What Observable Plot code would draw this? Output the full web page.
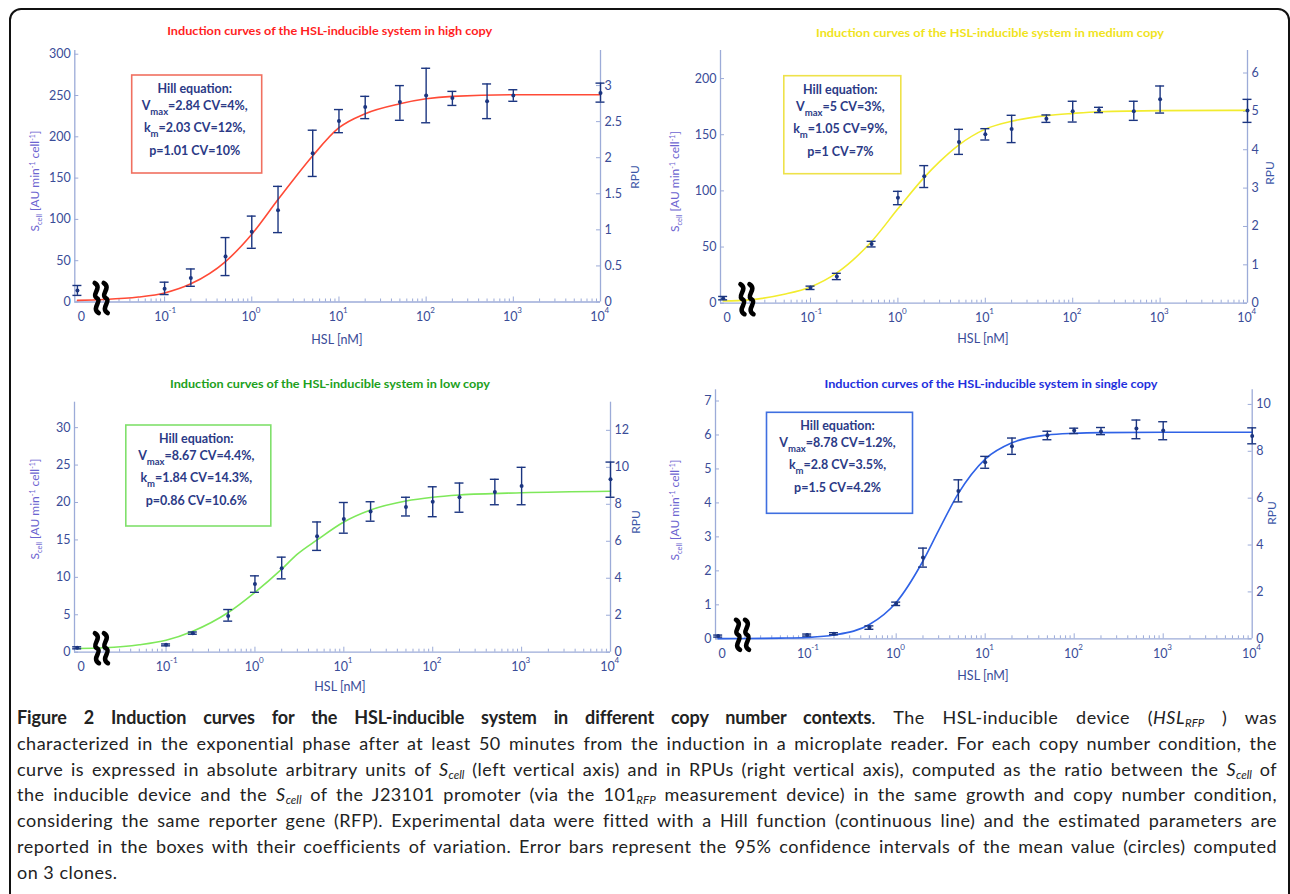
<!DOCTYPE html>
<html><head><meta charset="utf-8">
<script src="https://cdn.jsdelivr.net/npm/d3@7"></script>
<script src="https://cdn.jsdelivr.net/npm/@observablehq/plot@0.6"></script>
<style>
html,body{margin:0;padding:0;background:#fff;}
#page{position:relative;width:1290px;height:894px;overflow:hidden;font-family:Lato,"Open Sans",sans-serif;}
#border{position:absolute;left:9px;top:8px;width:1281px;height:910px;border:2px solid #111;border-radius:12px;box-sizing:border-box;}
.panel{position:absolute;}
#caption{position:absolute;left:17px;top:705px;width:1260px;font-size:18px;letter-spacing:0.5px;line-height:25.8px;color:#222;}
#caption div{text-align:justify;text-align-last:justify;white-space:nowrap;}
#caption div.last{text-align-last:left;}
#caption b{letter-spacing:-0.1px;}
#caption sub{font-size:11.5px;line-height:0;vertical-align:-3px;font-style:italic;letter-spacing:0;}
</style></head>
<body><div id="page"><div id="border"></div>
<div id="caption">
<div><b>Figure 2 Induction curves for the HSL-inducible system in different copy number contexts</b>. The HSL-inducible device (<i>HSL<sub>RFP</sub></i> ) was</div>
<div>characterized in the exponential phase after at least 50 minutes from the induction in a microplate reader. For each copy number condition, the</div>
<div>curve is expressed in absolute arbitrary units of <i>S<sub>cell</sub></i> (left vertical axis) and in RPUs (right vertical axis), computed as the ratio between the <i>S<sub>cell</sub></i> of</div>
<div>the inducible device and the <i>S<sub>cell</sub></i> of the J23101 promoter (via the 101<sub>RFP</sub> measurement device) in the same growth and copy number condition,</div>
<div>considering the same reporter gene (RFP). Experimental data were fitted with a Hill function (continuous line) and the estimated parameters are</div>
<div>reported in the boxes with their coefficients of variation. Error bars represent the 95% confidence intervals of the mean value (circles) computed</div>
<div class="last">on 3 clones.</div>
</div>
</div>
<script>
// ---------------- DATA ----------------
const hsl = [0, 0.1, 0.2, 0.5, 1, 2, 5, 10, 20, 50, 100, 200, 500, 1000, 10000];
const fitHsl = [0, 0.02, 0.05, 0.1, 0.2, 0.5, 1, 2, 3, 5, 10, 20, 50, 100, 200, 1000, 10000];

const highMean = [14, 16, 29, 55, 85, 111, 180, 219, 236, 242, 250, 247, 243, 250, 253];
const highLo   = [8, 9, 19, 32, 65, 84, 152, 205, 222, 220, 217, 238, 222, 243, 242];
const highHi   = [20, 24, 40, 78, 104, 140, 208, 233, 249, 262, 283, 255, 264, 257, 265];
const highFit  = [2, 3, 6, 11, 22, 49, 82, 124, 148, 177, 211, 228, 240, 246, 249, 251, 251];

const medMean = [4.5, 13.7, 23.8, 52.6, 94, 113, 143.5, 150.4, 155, 164.3, 171, 171.7, 171, 181.5, 171.5];
const medLo   = [3, 12.2, 21, 50.1, 87.7, 103, 132.5, 145.3, 143, 161, 161.3, 169.7, 162.8, 169.3, 161];
const medHi   = [6, 15.2, 26.6, 55.1, 99.6, 122.5, 154.8, 155.4, 167.3, 167.6, 179.8, 174.4, 179.8, 193.4, 181.5];
const medFit  = [2, 3, 8, 14.5, 27, 55, 84, 112, 126, 141, 155, 162, 167, 169, 170.5, 171.5, 171.7];

const lowMean = [0.59, 0.98, 2.54, 4.82, 9.1, 11.2, 15.5, 17.8, 18.8, 19.4, 20.1, 20.7, 21.4, 22.2, 23.1];
const lowLo   = [0.45, 0.85, 2.4, 4.15, 8.0, 9.8, 13.6, 15.9, 17.5, 18.2, 18.1, 18.7, 19.7, 19.7, 20.7];
const lowHi   = [0.72, 1.1, 2.7, 5.7, 10.2, 12.7, 17.4, 20.0, 20.1, 20.7, 22.1, 22.6, 23.1, 24.7, 25.4];
const lowFit  = [0.5, 0.6, 1.0, 1.6, 2.8, 5.3, 8.0, 11.1, 13.1, 15.0, 17.4, 19.0, 20.2, 20.7, 21.0, 21.3, 21.5];

const singleMean = [0.08, 0.11, 0.15, 0.33, 1.03, 2.39, 4.35, 5.2, 5.67, 5.99, 6.13, 6.1, 6.19, 6.13, 5.97];
const singleLo   = [0.05, 0.08, 0.12, 0.28, 0.98, 2.11, 4.03, 5.02, 5.43, 5.86, 6.04, 6.01, 5.89, 5.86, 5.74];
const singleHi   = [0.11, 0.14, 0.18, 0.38, 1.08, 2.67, 4.68, 5.37, 5.91, 6.11, 6.2, 6.22, 6.44, 6.39, 6.21];
const singleFit  = [0.005, 0.01, 0.02, 0.04, 0.11, 0.42, 1.07, 2.29, 3.19, 4.28, 5.29, 5.77, 6.0, 6.05, 6.07, 6.08, 6.08];

const titles = [
  "Induction curves of the HSL-inducible system in high copy",
  "Induction curves of the HSL-inducible system in medium copy",
  "Induction curves of the HSL-inducible system in low copy",
  "Induction curves of the HSL-inducible system in single copy"
];
const boxVmax = ["=2.84 CV=4%,", "=5 CV=3%,", "=8.67 CV=4.4%,", "=8.78 CV=1.2%,"];
const boxKm   = ["=2.03 CV=12%,", "=1.05 CV=9%,", "=1.84 CV=14.3%,", "=2.8 CV=3.5%,"];
const boxP    = ["p=1.01 CV=10%", "p=1 CV=7%", "p=0.86 CV=10.6%", "p=1.5 CV=4.2%"];

const sTicks = [[0,50,100,150,200,250,300],[0,50,100,150,200],[0,5,10,15,20,25,30],[0,1,2,3,4,5,6,7]];
const rpuTicks = [[0,0.5,1,1.5,2,2.5,3],[0,1,2,3,4,5,6],[0,2,4,6,8,10,12],[0,2,4,6,8,10]];
const sPerRpu = [87.35, 34.16, 2.47, 0.69];
const yTop = [304.5, 225, 33.4, 7.33];
const xTickLabels = ["0", "10", "10", "10", "10", "10", "10"];
const xTickExp = ["", "-1", "0", "1", "2", "3", "4"];

// ---------------- STYLE / LAYOUT ----------------
const zeroAt = 0.01;           // axis position standing for HSL = 0
const breakAt = 0.019;         // axis break marker
const xDomain = [Math.pow(10, -2.03), 10000];
const axisColor = "#9cabd8", tickColor = "#3a4c98", barColor = "#1b3580";
const curveColors = ["#ff4a36", "#f2ec2e", "#7ee85a", "#2f62e6"];
const titleColors = ["#ff1f1f", "#f0e31c", "#20a020", "#2230dd"];
const boxColors = ["#f07060", "#eee24a", "#80e06c", "#3f6fe0"];
const means = [highMean, medMean, lowMean, singleMean];
const los = [highLo, medLo, lowLo, singleLo];
const his = [highHi, medHi, lowHi, singleHi];
const fits = [highFit, medFit, lowFit, singleFit];

const layout = [
  {ox:0,   oy:0,   w:645, h:355, L:74.3, R:600,    T:50,    B:301.5, title:[329.7,35,325], box:[131.7,75,130,98],  ylab:[39,181],   rlab:[639,177],  xlab:[337,344], brkY:-3.5},
  {ox:645, oy:0,   w:645, h:355, L:720,  R:1247,   T:50,    B:302.7, title:[990,37,348],   box:[783.8,75.7,117,98], ylab:[679,181.5], rlab:[1274,173], xlab:[983,343], brkY:-3.5},
  {ox:0,   oy:355, w:645, h:340, L:74,   R:610,    T:401.7, B:651.7, title:[330,388,320],  box:[125.8,425,145,101], ylab:[39,509],   rlab:[640,522],  xlab:[340,691], brkY:-3.5},
  {ox:645, oy:355, w:645, h:340, L:715,  R:1251.7, T:389.3, B:638.3, title:[991,388,333],  box:[766.5,412.3,146,101],ylab:[679,510],  rlab:[1276,513], xlab:[983,680], brkY:-3.5}
];

const fmt = v => String(Math.round(v * 100) / 100);

function makePanel(i) {
  const lay = layout[i];
  const pts = hsl.map((h, j) => ({x: h === 0 ? zeroAt : h, m: means[i][j], lo: los[i][j], hi: his[i][j]}));
  const fit = fitHsl.map((h, j) => ({x: h === 0 ? zeroAt : h, y: fits[i][j]}));
  const plotW = lay.R - lay.L, plotH = lay.B - lay.T;
  const minor = [];
  for (let e = -2; e < 4; e++) for (let k = 2; k <= 9; k++) minor.push(k * Math.pow(10, e));
  const majors = [0.1, 1, 10, 100, 1000];
  const labelTicks = [zeroAt, 0.1, 1, 10, 100, 1000, 10000];
  const rTicks = rpuTicks[i].map(r => r * sPerRpu[i]);

  const chart = Plot.plot({
    width: lay.w, height: lay.h,
    marginLeft: lay.L - lay.ox, marginRight: lay.ox + lay.w - lay.R,
    marginTop: lay.T - lay.oy, marginBottom: lay.oy + lay.h - lay.B,
    x: {type: "log", domain: xDomain, axis: null},
    y: {domain: [0, yTop[i]], axis: null},
    style: {fontFamily: "Lato, 'Open Sans', sans-serif", fontSize: "12.5px", background: "transparent", overflow: "visible"},
    marks: [
      Plot.ruleY([0], {stroke: axisColor, strokeWidth: 1.3}),
      Plot.ruleX(xDomain, {stroke: axisColor, strokeWidth: 1.3}),
      Plot.ruleX(minor, {stroke: axisColor, insetTop: plotH - 3}),
      Plot.ruleX(majors, {stroke: axisColor, insetTop: plotH - 5}),
      Plot.ruleY(sTicks[i], {stroke: axisColor, insetRight: plotW - 4}),
      Plot.ruleY(rTicks, {stroke: axisColor, insetLeft: plotW - 4}),
      Plot.axisY({ticks: sTicks[i], tickSize: 0, tickPadding: 4, color: tickColor, label: null}),
      Plot.axisY({anchor: "right", ticks: rTicks, tickFormat: d => fmt(d / sPerRpu[i]), tickSize: 0, tickPadding: 4, color: tickColor, label: null}),
      Plot.axisX({ticks: labelTicks.slice(0, 1), tickFormat: (d, k) => xTickLabels[0], tickSize: 0, tickPadding: 10, color: tickColor, label: null, dx: 4}),
      Plot.axisX({ticks: labelTicks.slice(1), tickFormat: d => "10", tickSize: 0, tickPadding: 10, color: tickColor, label: null, dx: -3}),
      Plot.text(labelTicks.slice(1), {x: d => d, frameAnchor: "bottom", text: (d, k) => xTickExp[k + 1], dx: 4, dy: 11, textAnchor: "start", fontSize: 8, fill: tickColor}),
      Plot.line(fit, {x: "x", y: "y", curve: "monotone-x", stroke: curveColors[i], strokeWidth: 1.6}),
      Plot.ruleX(pts, {x: "x", y1: "lo", y2: "hi", stroke: barColor, strokeWidth: 1.4}),
      Plot.ruleY(pts, {y: "lo", x1: "x", x2: "x", insetLeft: -4.5, insetRight: -4.5, stroke: barColor, strokeWidth: 1.4}),
      Plot.ruleY(pts, {y: "hi", x1: "x", x2: "x", insetLeft: -4.5, insetRight: -4.5, stroke: barColor, strokeWidth: 1.4}),
      Plot.dot(pts, {x: "x", y: "m", r: 2, fill: barColor})
    ]
  });
  chart.classList.add("panel");
  chart.style.left = lay.ox + "px";
  chart.style.top = lay.oy + "px";
  const svg = d3.select(chart);
  const ox = lay.ox, oy = lay.oy;

  // axis break marker
  const bx = chart.scale("x").apply(breakAt);
  const by = lay.B - oy + lay.brkY;
  const wd = "M-2,-15 C6,-10 -6,-3.5 0,0 C6,3.5 -6,10 2,15";
  [-4.5, 4.5].forEach(off => svg.append("path").attr("d", wd)
    .attr("transform", `translate(${bx + off},${by})`)
    .attr("fill", "none").attr("stroke", "#000").attr("stroke-width", 4.6).attr("stroke-linecap", "round"));

  // title
  svg.append("text").attr("x", lay.title[0] - ox).attr("y", lay.title[1] - oy)
    .attr("text-anchor", "middle").attr("font-weight", "bold").attr("font-size", 11.5)
    .attr("fill", titleColors[i]).attr("textLength", lay.title[2]).attr("lengthAdjust", "spacingAndGlyphs")
    .text(titles[i]);

  // y label (S_cell)
  const yl = svg.append("text").attr("transform", `translate(${lay.ylab[0] - ox},${lay.ylab[1] - oy}) rotate(-90)`)
    .attr("text-anchor", "middle").attr("fill", "#6c64d0").attr("font-size", 12);
  yl.append("tspan").text("S");
  yl.append("tspan").attr("font-size", 7.5).attr("dy", 3).text("cell");
  yl.append("tspan").attr("dy", -3).text(" [AU min");
  yl.append("tspan").attr("font-size", 7).attr("dy", -4).text("-1");
  yl.append("tspan").attr("dy", 4).text(" cell");
  yl.append("tspan").attr("font-size", 7).attr("dy", -4).text("-1");
  yl.append("tspan").attr("dy", 4).text("]");

  // right label
  svg.append("text").attr("transform", `translate(${lay.rlab[0] - ox},${lay.rlab[1] - oy}) rotate(-90)`)
    .attr("text-anchor", "middle").attr("fill", "#3d58a8").attr("font-size", 12).text("RPU");

  // x label
  svg.append("text").attr("x", lay.xlab[0] - ox).attr("y", lay.xlab[1] - oy)
    .attr("text-anchor", "middle").attr("fill", tickColor).attr("font-size", 12.5).text("HSL [nM]");

  // Hill box
  const [bx0, by0, bw, bh] = lay.box;
  const g = svg.append("g").attr("transform", `translate(${bx0 - ox},${by0 - oy})`);
  g.append("rect").attr("width", bw).attr("height", bh).attr("fill", "#fff")
    .attr("stroke", boxColors[i]).attr("stroke-width", 1.6);
  const cx = bw / 2 - 2;
  const line = y => g.append("text").attr("text-anchor", "middle").attr("font-weight", "bold")
    .attr("font-size", 12.5).attr("fill", "#2b3a86").attr("x", cx).attr("y", y);
  line(18).text("Hill equation:");
  const l2 = line(35);
  l2.append("tspan").text("V");
  l2.append("tspan").attr("font-size", 9.5).attr("dy", 5).text("max");
  l2.append("tspan").attr("dy", -5).text(boxVmax[i]);
  const l3 = line(57);
  l3.append("tspan").text("k");
  l3.append("tspan").attr("font-size", 9.5).attr("dy", 5).text("m");
  l3.append("tspan").attr("dy", -5).text(boxKm[i]);
  line(80).text(boxP[i]);

  document.getElementById("page").appendChild(chart);
}
[0, 1, 2, 3].forEach(makePanel);
</script>
</body></html>
